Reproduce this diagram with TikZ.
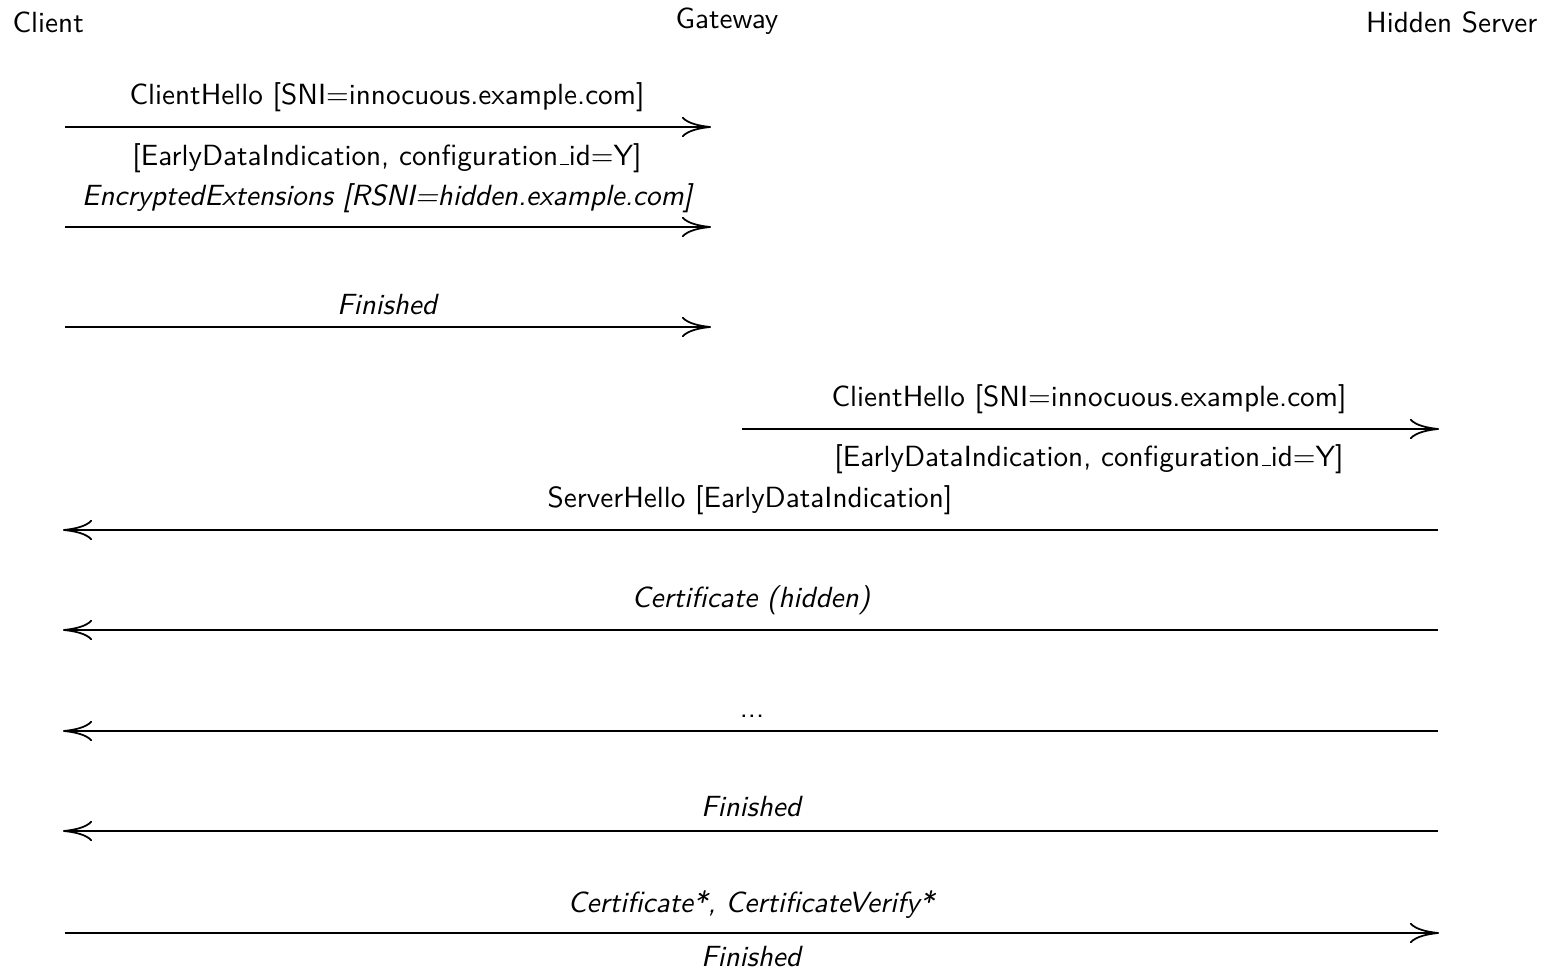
\documentclass[tikz,border=0pt]{standalone}
\usetikzlibrary{arrows.meta}
\newcommand{\uscore}{\leavevmode\kern.06em\vbox{\hrule width.3em height 0.45pt}}
\begin{document}
\begin{tikzpicture}[x=0.3425pt,y=-0.3425pt,
  font=\sffamily,
  party/.style={inner sep=0pt},
  msg/.style={inner sep=0pt},
  it/.style={inner sep=0pt,font=\sffamily\itshape},
  flow/.style={line width=0.6pt,-{To[length=10pt,width=7pt]}}]
\useasboundingbox (0,0) rectangle (1549,971);
% participants
\node[party,anchor=west] (client) at (12,22) {Client};
\node[party] (gateway) at (727,21) {Gateway};
\node[party,anchor=east] (hidden) at (1538,22) {Hidden Server};
% endpoints
\coordinate (c1) at (65,127);  \coordinate (g1) at (711,127);
\coordinate (c2) at (65,227);  \coordinate (g2) at (711,227);
\coordinate (c3) at (65,327);  \coordinate (g3) at (711,327);
\coordinate (g4) at (742,429); \coordinate (h4) at (1439,429);
\coordinate (h5) at (1438,530); \coordinate (c5) at (63,530);
\coordinate (h6) at (1438,630); \coordinate (c6) at (63,630);
\coordinate (h7) at (1438,731); \coordinate (c7) at (63,731);
\coordinate (h8) at (1438,831); \coordinate (c8) at (63,831);
\coordinate (c9) at (65,933);  \coordinate (h9) at (1439,933);
% arrows
\draw[flow] (c1) -- (g1);
\draw[flow] (c2) -- (g2);
\draw[flow] (c3) -- (g3);
\draw[flow] (g4) -- (h4);
\draw[flow] (h5) -- (c5);
\draw[flow] (h6) -- (c6);
\draw[flow] (h7) -- (c7);
\draw[flow] (h8) -- (c8);
\draw[flow] (c9) -- (h9);
% labels
\node[msg] (l1a) at (387,97) {ClientHello [SNI=innocuous.example.com]};
\node[msg] (l1b) at (387,158) {[EarlyDataIndication, configuration\uscore id=Y]};
\node[it] (l2) at (387,198) {EncryptedExtensions [RSNI=hidden.example.com]};
\node[it] (l3) at (387,305) {Finished};
\node[msg] (l4a) at (1089,399) {ClientHello [SNI=innocuous.example.com]};
\node[msg] (l4b) at (1089,459) {[EarlyDataIndication, configuration\uscore id=Y]};
\node[msg] (l5) at (750,500) {ServerHello [EarlyDataIndication]};
\node[it] (l6) at (751,600) {Certificate (hidden)};
\node[msg] (l7) at (752,716) {...};
\node[it] (l8) at (751,807) {Finished};
\node[it] (l9a) at (751,905) {Certificate*, CertificateVerify*};
\node[it] (l9b) at (751,957) {Finished};
\end{tikzpicture}
\end{document}
